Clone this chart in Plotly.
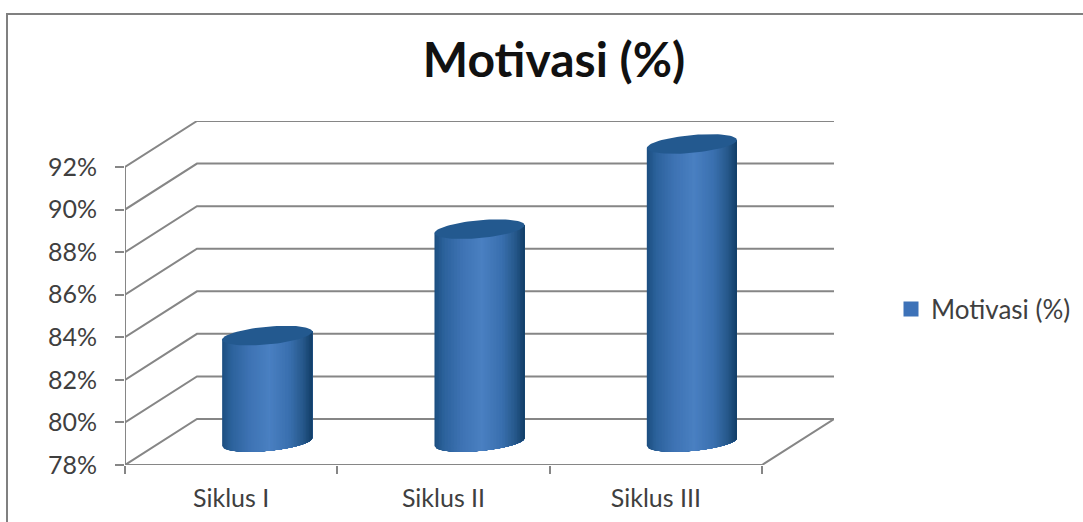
import numpy as np
import plotly.graph_objects as go

categories = ["Siklus I", "Siklus II", "Siklus III"]
values = [83, 88, 92]
y_ticks = [78, 80, 82, 84, 86, 88, 90, 92]
y_tick_labels = ["78%", "80%", "82%", "84%", "86%", "88%", "90%", "92%"]
series_name = "Motivasi (%)"
chart_title = "Motivasi (%)"

# Oblique projection of the depth axis, in data units
DEPTH_X = 0.339
DEPTH_Y = 2.16
HALF_WIDTH = 0.212
ELLIPSE_B = 0.42
ELLIPSE_TILT = 0.19

GRID = "#868686"
FONT = "Lato"
TEXT = "#3f3f3f"
STOPS = [(-1.0, (28, 78, 128)), (-0.8, (44, 98, 155)), (-0.4, (62, 115, 180)),
         (0.05, (74, 128, 194)), (0.5, (58, 112, 175)), (0.8, (38, 88, 138)), (1.0, (18, 62, 104))]

n_cat = len(categories)
fig = go.Figure()


def line(xs, ys):
    fig.add_trace(go.Scatter(x=xs, y=ys, mode="lines", line=dict(color=GRID, width=2),
                             showlegend=False, hoverinfo="skip", cliponaxis=False))


base = y_ticks[0]
for v in y_ticks:
    line([0, DEPTH_X, n_cat + DEPTH_X], [v, v + DEPTH_Y, v + DEPTH_Y])
line([0, 0], [base, y_ticks[-1]])
line([0, n_cat, n_cat + DEPTH_X], [base, base, base + DEPTH_Y])


def shade(u):
    us = [s[0] for s in STOPS]
    return "rgb(%d,%d,%d)" % tuple(np.interp(u, us, [s[1][k] for s in STOPS]) for k in range(3))


edges = np.linspace(-1, 1, 61)
for i, val in enumerate(values):
    xc = i + 0.5 + DEPTH_X / 2
    y0 = base + DEPTH_Y / 2
    y1 = val + DEPTH_Y / 2
    # Each strip runs on under the next ones, so no seams show between them
    for u1, u2 in zip(edges[:-1], edges[1:]):
        span = np.linspace(u1, 1, 40)
        low = y0 + ELLIPSE_TILT * span - ELLIPSE_B * np.sqrt(np.clip(1 - span ** 2, 0, 1))
        top = y1 + ELLIPSE_TILT * span
        fig.add_trace(go.Scatter(
            x=np.concatenate([xc + HALF_WIDTH * span, xc + HALF_WIDTH * span[::-1]]),
            y=np.concatenate([low, top[::-1]]),
            mode="lines", fill="toself", fillcolor=shade((u1 + u2) / 2),
            line=dict(width=0), showlegend=False, hoverinfo="skip"))
    t = np.linspace(0, 2 * np.pi, 80)
    fig.add_trace(go.Scatter(
        x=xc + HALF_WIDTH * np.cos(t),
        y=y1 + ELLIPSE_TILT * np.cos(t) + ELLIPSE_B * np.sin(t),
        mode="lines", fill="toself", fillcolor="#23598f",
        line=dict(width=0), showlegend=False, hoverinfo="skip"))

fig.add_trace(go.Scatter(x=[None], y=[None], mode="markers", name=series_name,
                         marker=dict(symbol="square", size=15, color="#3d72b8"), showlegend=True))

fig.update_layout(
    width=1083, height=522, autosize=False,
    margin=dict(l=125, r=249, t=121, b=57, pad=0, autoexpand=False),
    paper_bgcolor="white", plot_bgcolor="white",
    title=dict(text=chart_title, x=554 / 1083, xanchor="center", xref="container", y=1 - 60 / 522, yanchor="middle",
               yref="container", font=dict(family=FONT, size=48, color="#111111", weight="bold")),
    xaxis=dict(range=[0, n_cat + DEPTH_X], showgrid=False, zeroline=False, showline=False, automargin=False,
               tickmode="array", tickvals=[i + 0.5 for i in range(n_cat)], ticktext=categories,
               ticks="", ticklabelstandoff=16, tickfont=dict(family=FONT, size=25, color=TEXT),
               minor=dict(tickmode="array", tickvals=list(range(n_cat + 1)), ticks="outside",
                          ticklen=8, tickwidth=2, tickcolor=GRID, showgrid=False)),
    yaxis=dict(range=[base, y_ticks[-1] + DEPTH_Y], showgrid=False, zeroline=False, showline=False, automargin=False,
               tickmode="array", tickvals=y_ticks, ticktext=y_tick_labels, ticks="outside",
               ticklen=9, tickwidth=2, tickcolor=GRID, ticklabelstandoff=13,
               tickfont=dict(family=FONT, size=25, color=TEXT)),
    legend=dict(x=(891 - 125) / 709, y=(465 - 309) / 344, xanchor="left", yanchor="middle",
                font=dict(family=FONT, size=26, color=TEXT), bgcolor="rgba(0,0,0,0)", borderwidth=0),
    shapes=[dict(type="path", xref="paper", yref="paper", layer="below",
                 path="M %f,%f L %f,%f L %f,%f" % (-118 / 709, -57 / 344, -118 / 709, (465 - 14) / 344, 958 / 709, (465 - 14) / 344),
                 line=dict(color="#808080", width=2))],
    hovermode=False,
)

fig.write_html("out.html", config=dict(displayModeBar=False),
               post_script="document.body.style.margin='0';document.documentElement.style.overflow='hidden';")
